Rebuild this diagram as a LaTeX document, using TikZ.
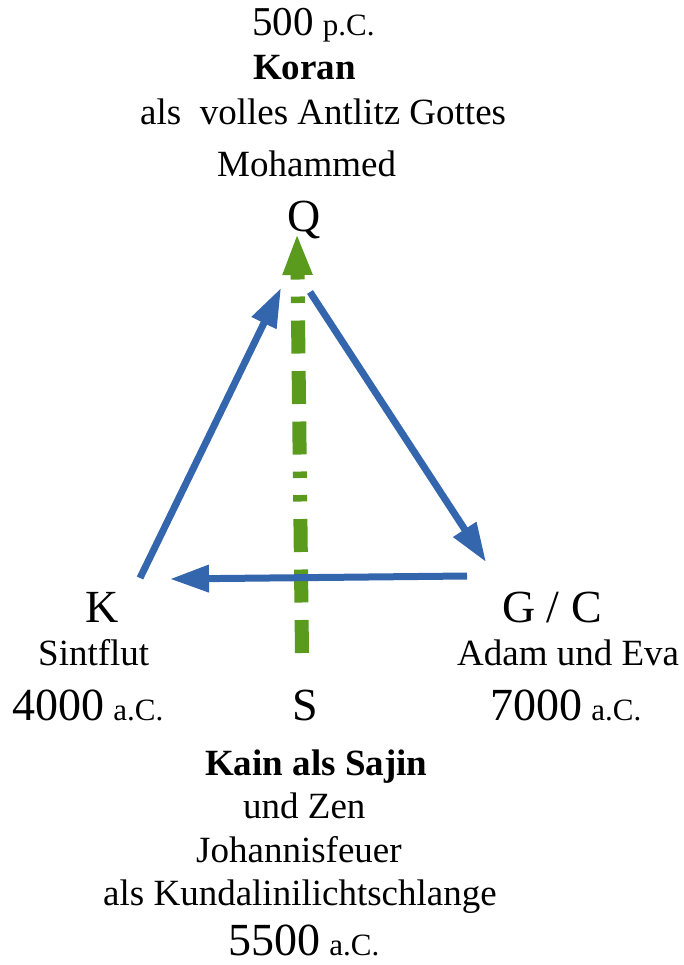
\documentclass[tikz,border=0pt]{standalone}
\usepackage{fontspec}
\setmainfont{Liberation Serif}
\usetikzlibrary{arrows.meta}
\definecolor{arrblue}{RGB}{52,102,174}
\definecolor{arrgreen}{RGB}{90,155,30}
\newcommand{\txt}{\fontsize{37}{37}\selectfont}
\newcommand{\bigtxt}{\fontsize{46}{46}\selectfont}
\newcommand{\midtxt}{\fontsize{41}{41}\selectfont}
\newcommand{\smtxt}{\fontsize{31}{31}\selectfont}
\tikzset{
  lbl/.style={inner sep=0pt, anchor=base west, font=\txt},
  letter/.style={inner sep=0pt, anchor=base west, font=\bigtxt},
  bluearrow/.style={draw=arrblue, line width=7pt, -{Triangle[length=39pt,width=26pt]}},
  greenarrow/.style={draw=arrgreen, line width=14pt,
    dash pattern=on 33pt off 17.5pt on 33pt off 17.5pt on 33pt off 17.5pt on 6.5pt off 17pt on 6.5pt off 17pt,
    -{Triangle[length=42pt,width=27pt]}}
}
\begin{document}
\begin{tikzpicture}[x=1pt,y=-1pt]
\useasboundingbox (0,0) rectangle (683,965);
% top texts
\node[lbl] (yQ) at (252,36) {{\midtxt 500} {\smtxt p.C.}};
\node[lbl] (koran) at (253,80) {\bfseries Koran};
\node[lbl] (antlitz) at (140,125) {als~~volles Antlitz Gottes};
\node[lbl] (moh) at (217,177) {Mohammed};
\node[letter] (Q) at (287,232) {Q};
% left
\node[letter] (K) at (85,622) {K};
\node[lbl] (sint) at (38,665) {Sintflut};
\node[lbl] (yK) at (12,720) {{\bigtxt 4000} {\smtxt a.C.}};
% right
\node[letter] (G) at (502,622) {G / C};
\node[lbl] (adam) at (457,665) {Adam und Eva};
\node[lbl] (yG) at (490,720) {{\bigtxt 7000} {\smtxt a.C.}};
% bottom
\node[letter] (S) at (292,720) {S};
\node[lbl] (kain) at (205,775) {\bfseries Kain als Sajin};
\node[lbl] (zen) at (243,818) {und Zen};
\node[lbl] (joh) at (196,862) {Johannisfeuer};
\node[lbl] (kund) at (103,905) {als Kundalinilichtschlange};
\node[lbl] (yS) at (228,955) {{\bigtxt 5500} {\smtxt a.C.}};
% connector end points
\coordinate (kq1) at (140,578);
\coordinate (kq2) at (281,288);
\coordinate (qg1) at (310,292);
\coordinate (qg2) at (486,562);
\coordinate (gk1) at (467,576);
\coordinate (gk2) at (170,579);
\coordinate (sq1) at (302,653);
\coordinate (sq2) at (297,233);
% arrows
\draw[greenarrow] (sq1) -- (sq2);
\draw[bluearrow] (kq1) -- (kq2);
\draw[bluearrow] (qg1) -- (qg2);
\draw[bluearrow] (gk1) -- (gk2);
\end{tikzpicture}
\end{document}
